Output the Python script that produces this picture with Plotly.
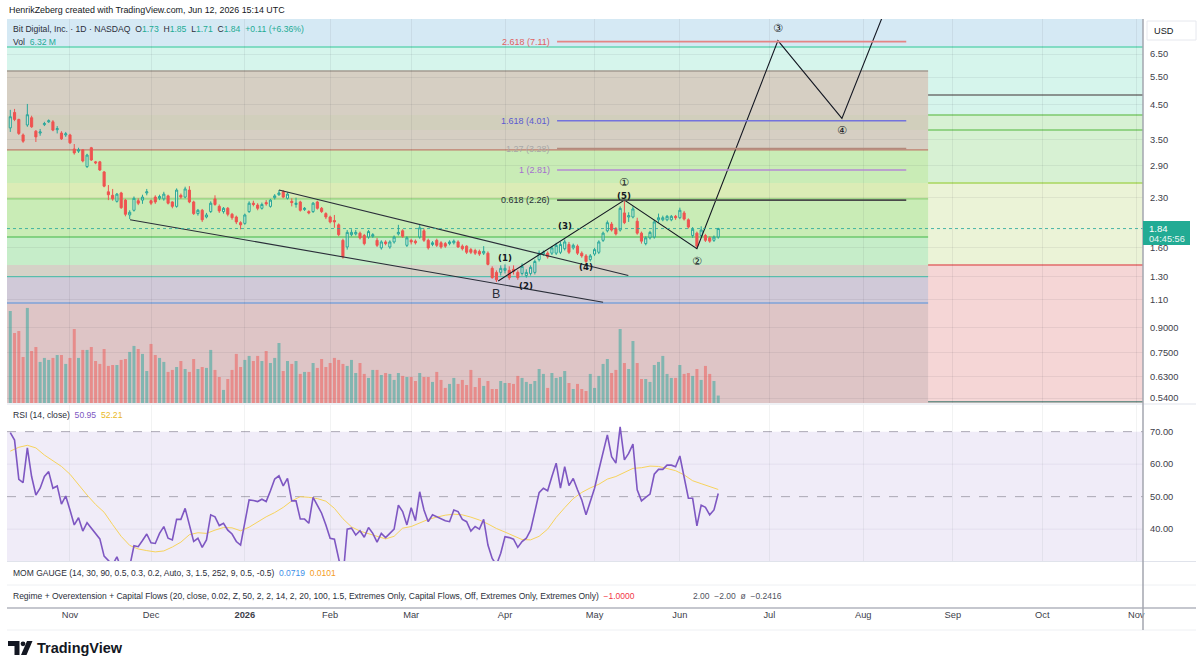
import math
import pandas as pd
import plotly.graph_objects as go

FONT = "Liberation Sans, Arial, sans-serif"
TEAL = "#26a69a"
RED = "#ef5350"
TV_TEAL = "#22ab94"
INK = "#131722"

# ---------------- data ----------------
holidays = ["2025-11-27", "2025-12-25", "2026-01-01", "2026-01-19", "2026-02-16",
            "2026-04-03", "2026-05-25", "2026-06-19", "2026-07-03", "2026-09-07"]
_bd = pd.bdate_range("2025-10-14", "2026-06-12")
dates = [d.strftime("%Y-%m-%d") for d in _bd if d.strftime("%Y-%m-%d") not in holidays]

opens = [3.81, 4.26, 4.05, 3.62, 3.89, 4.10, 3.72, 3.67, 3.90, 3.98,
         3.98, 3.76, 3.67, 3.62, 3.62, 3.27, 3.22, 3.25, 2.88, 3.30,
         2.98, 2.98, 2.77, 2.40, 2.34, 2.24, 2.38, 2.26, 2.03, 2.10,
         2.25, 2.26, 2.38, 2.25, 2.31, 2.29, 2.28, 2.33, 2.23, 2.16,
         2.34, 2.31, 2.43, 2.23, 2.05, 2.10, 2.00, 2.08, 2.28, 2.16,
         2.08, 2.13, 2.04, 2.00, 1.92, 1.91, 2.08, 2.21, 2.18, 2.13,
         2.22, 2.16, 2.30, 2.35, 2.40, 2.29, 2.24, 2.19, 2.23, 2.11,
         2.08, 2.08, 2.23, 2.13, 2.05, 2.00, 1.95, 1.89, 1.69, 1.61,
         1.76, 1.77, 1.78, 1.75, 1.73, 1.74, 1.69, 1.60, 1.67, 1.61,
         1.67, 1.77, 1.81, 1.63, 1.69, 1.68, 1.73, 1.81, 1.69, 1.64,
         1.69, 1.66, 1.65, 1.65, 1.66, 1.67, 1.62, 1.62, 1.58, 1.57,
         1.56, 1.54, 1.54, 1.38, 1.34, 1.34, 1.36, 1.36, 1.37, 1.34,
         1.33, 1.31, 1.33, 1.34, 1.47, 1.53, 1.54, 1.54, 1.54, 1.55,
         1.59, 1.64, 1.60, 1.62, 1.54, 1.51, 1.47, 1.53, 1.55, 1.69,
         1.81, 1.90, 1.84, 1.82, 2.06, 2.00, 2.00, 1.94, 1.78, 1.65,
         1.72, 1.73, 1.96, 1.96, 1.96, 1.96, 2.01, 1.99, 2.06, 1.96,
         1.75, 1.78, 1.75, 1.75, 1.72, 1.69, 1.73]
highs = [4.34, 4.37, 4.07, 3.66, 4.53, 4.16, 3.75, 3.78, 3.98, 4.05,
         4.03, 3.86, 3.72, 3.70, 3.65, 3.39, 3.30, 3.27, 3.16, 3.32,
         3.00, 3.00, 2.79, 2.52, 2.45, 2.38, 2.40, 2.28, 2.10, 2.32,
         2.29, 2.35, 2.45, 2.27, 2.34, 2.35, 2.40, 2.35, 2.24, 2.46,
         2.37, 2.49, 2.50, 2.25, 2.12, 2.12, 2.06, 2.24, 2.34, 2.19,
         2.15, 2.15, 2.06, 2.02, 1.94, 2.05, 2.24, 2.25, 2.21, 2.22,
         2.26, 2.28, 2.36, 2.43, 2.43, 2.39, 2.29, 2.30, 2.25, 2.15,
         2.10, 2.23, 2.25, 2.15, 2.07, 2.02, 2.03, 1.91, 1.71, 1.82,
         1.83, 1.82, 1.80, 1.77, 1.82, 1.78, 1.72, 1.69, 1.69, 1.69,
         1.75, 1.89, 1.83, 1.74, 1.71, 1.70, 1.90, 1.84, 1.71, 1.68,
         1.71, 1.68, 1.67, 1.69, 1.70, 1.69, 1.64, 1.63, 1.60, 1.59,
         1.58, 1.62, 1.56, 1.40, 1.36, 1.41, 1.42, 1.40, 1.41, 1.36,
         1.43, 1.37, 1.41, 1.47, 1.57, 1.57, 1.56, 1.62, 1.66, 1.67,
         1.70, 1.67, 1.65, 1.64, 1.56, 1.53, 1.53, 1.60, 1.69, 1.80,
         1.95, 1.93, 1.86, 2.16, 2.26, 2.07, 2.16, 1.99, 1.80, 1.74,
         1.81, 1.96, 2.05, 2.02, 2.03, 2.03, 2.03, 2.14, 2.09, 1.98,
         1.86, 1.80, 1.87, 1.77, 1.74, 1.75, 1.85]
lows = [3.70, 4.00, 3.62, 3.42, 3.84, 3.81, 3.44, 3.60, 3.86, 3.95,
        3.72, 3.66, 3.49, 3.57, 3.39, 3.14, 3.18, 2.97, 2.85, 3.00,
        2.93, 2.79, 2.48, 2.26, 2.25, 2.22, 2.12, 2.01, 1.97, 2.08,
        2.18, 2.20, 2.34, 2.18, 2.20, 2.26, 2.25, 2.19, 2.13, 2.14,
        2.28, 2.29, 2.21, 2.03, 2.02, 1.93, 1.98, 2.06, 2.17, 2.06,
        2.05, 2.01, 1.96, 1.90, 1.83, 1.89, 2.06, 2.16, 2.10, 2.11,
        2.17, 2.14, 2.27, 2.33, 2.29, 2.27, 2.16, 2.14, 2.08, 2.09,
        2.04, 2.06, 2.11, 2.06, 1.97, 1.91, 1.85, 1.74, 1.48, 1.58,
        1.74, 1.75, 1.70, 1.63, 1.71, 1.72, 1.61, 1.58, 1.63, 1.59,
        1.65, 1.75, 1.72, 1.61, 1.64, 1.64, 1.71, 1.67, 1.58, 1.62,
        1.61, 1.59, 1.60, 1.63, 1.64, 1.60, 1.57, 1.53, 1.53, 1.52,
        1.51, 1.52, 1.41, 1.28, 1.25, 1.31, 1.33, 1.27, 1.32, 1.27,
        1.31, 1.29, 1.31, 1.32, 1.45, 1.51, 1.48, 1.52, 1.52, 1.53,
        1.57, 1.53, 1.58, 1.52, 1.49, 1.43, 1.45, 1.51, 1.53, 1.67,
        1.79, 1.80, 1.75, 1.80, 1.90, 1.93, 1.98, 1.76, 1.65, 1.63,
        1.70, 1.71, 1.92, 1.94, 1.94, 1.94, 1.96, 1.97, 1.95, 1.84,
        1.72, 1.59, 1.73, 1.67, 1.66, 1.67, 1.71]
closes = [4.13, 4.05, 3.66, 3.46, 4.19, 3.84, 3.57, 3.70, 3.93, 4.01,
          3.75, 3.79, 3.52, 3.65, 3.42, 3.18, 3.25, 3.00, 3.13, 3.02,
          2.96, 2.81, 2.50, 2.35, 2.28, 2.36, 2.14, 2.04, 2.07, 2.29,
          2.21, 2.31, 2.40, 2.21, 2.23, 2.32, 2.36, 2.21, 2.16, 2.43,
          2.31, 2.45, 2.23, 2.05, 2.10, 1.96, 2.03, 2.21, 2.19, 2.09,
          2.13, 2.04, 1.99, 1.93, 1.89, 2.03, 2.21, 2.19, 2.13, 2.19,
          2.20, 2.26, 2.33, 2.38, 2.31, 2.36, 2.22, 2.21, 2.10, 2.13,
          2.06, 2.21, 2.13, 2.08, 2.00, 1.93, 1.93, 1.76, 1.50, 1.79,
          1.79, 1.79, 1.72, 1.65, 1.80, 1.76, 1.63, 1.67, 1.65, 1.67,
          1.73, 1.79, 1.74, 1.72, 1.67, 1.66, 1.85, 1.69, 1.60, 1.66,
          1.63, 1.61, 1.62, 1.67, 1.68, 1.61, 1.59, 1.55, 1.55, 1.54,
          1.53, 1.56, 1.42, 1.29, 1.27, 1.38, 1.38, 1.29, 1.35, 1.29,
          1.40, 1.34, 1.39, 1.45, 1.54, 1.55, 1.50, 1.60, 1.63, 1.64,
          1.67, 1.55, 1.63, 1.54, 1.51, 1.45, 1.51, 1.58, 1.67, 1.78,
          1.92, 1.82, 1.77, 2.13, 1.92, 2.02, 2.12, 1.78, 1.68, 1.72,
          1.79, 1.93, 1.99, 1.99, 2.01, 2.01, 1.99, 2.10, 1.97, 1.86,
          1.83, 1.62, 1.82, 1.69, 1.68, 1.73, 1.84]
volume_m = [78.2, 59.5, 61.2, 39.1, 80.8, 44.2, 47.6, 34.9, 38.3, 36.6,
            38.3, 40.8, 40.8, 33.2, 38.3, 62.9, 38.3, 45.1, 45.1, 47.6,
            35.7, 33.2, 45.9, 31.5, 32.3, 32.3, 36.6, 37.4, 43.4, 48.5,
            45.9, 41.7, 27.2, 50.2, 40.8, 38.3, 34.9, 26.4, 28.1, 30.6,
            35.7, 28.9, 26.4, 37.4, 28.9, 30.6, 29.8, 45.1, 28.1, 22.1,
            11.1, 20.4, 28.1, 41.7, 30.6, 36.6, 40.0, 35.7, 40.0, 35.7,
            44.2, 34.0, 38.3, 51.0, 27.2, 35.7, 33.2, 35.7, 24.7, 26.4,
            26.4, 34.0, 29.8, 37.4, 30.6, 34.0, 38.3, 36.6, 33.2, 31.5,
            36.6, 25.5, 34.0, 24.7, 21.3, 28.1, 28.1, 23.8, 25.5, 24.7,
            19.6, 25.5,
            23.0, 22.1, 22.1, 18.7, 25.5, 22.1, 22.1, 17.9, 26.4, 19.6,
            12.8, 16.2, 21.3, 16.2, 19.6, 15.3, 28.1, 13.6, 21.3, 14.5,
            18.7, 11.9, 11.9, 18.7, 17.0, 17.0, 16.2, 23.0, 21.3, 17.9,
            16.2, 18.7, 28.9, 24.7, 12.8, 25.5, 21.3, 22.1, 27.2, 17.0,
            11.9, 16.2, 11.9, 10.2, 24.7, 12.8, 23.0, 33.2, 37.4, 25.5,
            28.1, 62.9, 34.0, 28.9, 52.7, 34.0, 20.4, 20.4, 17.9, 32.3,
            34.9, 40.0, 24.7, 21.3, 21.3, 32.3, 24.7, 25.5, 23.0, 28.9,
            19.6, 31.5, 24.7, 18.7, 6.32]
rsi = [69.7, 67.4, 55.3, 54.3, 65.0, 56.2, 50.5, 52.6, 56.2, 57.7,
       52.6, 53.3, 47.7, 50.2, 45.9, 41.3, 43.5, 39.4, 42.0, 40.3,
       38.7, 37.0, 31.7, 30.5, 29.0, 31.5, 28.0, 26.0, 28.5, 34.9,
       34.6, 36.5, 38.5, 35.8, 35.6, 38.7, 40.8, 37.2, 36.7, 43.0,
       43.0, 46.4, 40.8, 36.2, 37.2, 34.4, 36.7, 44.4, 43.8, 41.1,
       41.8, 39.7, 38.5, 36.2, 35.1, 41.8, 49.0, 48.8, 48.5, 49.2,
       48.5, 51.8, 55.4, 56.4, 53.3, 55.6, 48.7, 48.7, 43.1, 43.1,
       41.8, 49.8, 47.4, 44.9, 41.3, 37.2, 36.9, 30.5, 25.0, 40.0,
       40.3, 38.2, 39.5, 37.5, 40.5, 38.7, 36.0, 38.7, 37.4, 38.7,
       40.0, 47.4,
       45.4, 41.3, 46.6, 42.6, 51.5, 45.9, 42.3, 44.4, 43.8, 43.0,
       42.6, 42.3, 45.9, 45.4, 43.0, 42.3, 39.4, 40.8, 40.0, 43.0,
       35.1, 31.0, 29.0, 32.6, 37.7, 37.4, 36.9, 34.4, 36.2, 37.2,
       39.7, 45.4, 51.2, 52.6, 51.8, 56.2, 60.3, 52.6, 59.2, 53.4,
       55.6, 52.1, 49.0, 44.4, 48.5, 52.6, 58.2, 63.8, 69.0, 62.3,
       60.3, 71.5, 61.3, 63.3, 66.2, 52.1, 48.7, 49.8, 50.8, 56.9,
       58.4, 58.4, 59.7, 59.7, 59.2, 62.5, 56.2, 49.5, 49.5, 41.0,
       47.4, 46.7, 44.4, 45.9, 50.95]
# RSI-based MA, read at every second bar
rsi_ma = [64.0, 65.2, 65.8, 65.0, 62.8, 61.0, 59.3, 56.9, 53.6, 50.5,
          47.6, 45.2, 41.4, 37.8, 35.0, 33.9, 33.4, 33.0, 33.3, 34.5,
          36.0, 38.3, 38.9, 38.7, 39.7, 40.5, 40.4, 39.5, 40.6, 42.3,
          43.8, 45.1, 46.7, 48.7, 50.0, 49.8, 49.4, 48.6, 46.4, 43.2,
          40.7, 39.4, 38.6, 37.7, 37.0, 37.8,
          40.3, 40.8, 42.0, 43.0, 43.7, 44.3, 44.6, 44.4, 43.7, 42.8,
          41.6, 40.2, 39.1, 38.0, 36.8, 36.7, 37.8, 40.0, 43.6, 46.6,
          49.4, 51.3, 52.7, 53.8, 55.4, 56.2, 57.5, 58.7, 58.9, 59.4,
          59.3, 58.7, 58.0, 56.7, 54.9, 54.0, 53.2, 52.21]
rsi_ma_dates = dates[::2]

month_ticks = ["2025-11-03", "2025-12-01", "2026-01-02", "2026-02-02", "2026-03-02",
               "2026-04-01", "2026-05-01", "2026-06-01", "2026-07-01", "2026-08-03",
               "2026-09-01", "2026-10-01", "2026-11-02"]
month_labels = ["Nov", "Dec", "<b>2026</b>", "Feb", "Mar", "Apr", "May", "Jun",
                "Jul", "Aug", "Sep", "Oct", "Nov"]
price_ticks = [6.5, 5.5, 4.5, 3.5, 2.9, 2.3, 1.6, 1.3, 1.1, 0.9, 0.75, 0.63, 0.54]
price_tick_text = ["6.50", "5.50", "4.50", "3.50", "2.90", "2.30", "1.60", "1.30",
                   "1.10", "0.9000", "0.7500", "0.6300", "0.5400"]
rsi_ticks = [70, 60, 50, 40]
rsi_tick_text = ["70.00", "60.00", "50.00", "40.00"]

fib_labels = ["2.618 (7.11)", "1.618 (4.01)", "1.27 (3.28)", "1 (2.81)", "0.618 (2.26)"]
fib_prices = [7.11, 4.01, 3.28, 2.81, 2.26]
fib_line_colors = ["#e58585", "#7373dc", "#b38a7c", "#b58ad3", "#4a4a4a"]
fib_text_colors = ["#e06262", "#5a5ad0", "#a8a8a8", "#a56fcf", "#2a2e39"]
fib_span = ["2026-04-20 05:00", "2026-08-17 02:00"]

upper_tl_dates = ["2026-01-14", "2026-05-12 22:00"]
upper_tl_prices = [2.43, 1.31]
lower_tl_dates = ["2025-11-21 02:00", "2026-05-05"]
lower_tl_prices = [1.96, 1.08]
wave_dates = ["2026-03-30 10:00", "2026-05-12", "2026-06-05", "2026-07-06", "2026-07-27", "2026-08-19"]
wave_prices = [1.26, 2.26, 1.59, 7.16, 4.08, 15.2]

wave_text = ["(1)", "(2)", "(3)", "(4)", "(5)", "\u2460", "\u2461", "\u2462", "\u2463", "B"]
wave_text_dates = ["2026-04-01", "2026-04-09", "2026-04-22", "2026-04-29", "2026-05-12",
                   "2026-05-12", "2026-06-05", "2026-07-06", "2026-07-27", "2026-03-30"]
wave_text_prices = [1.487, 1.214, 1.87, 1.39, 2.33, 2.56, 1.451, 7.84, 3.75, 1.146]

# horizontal zones (price boundaries)
P_TOP, P_BOT = 8.372, 0.5212
full_zones = [(6.838, P_TOP, "#d5e9f4"), (4.182, 6.838, "#d6f5ec"), (2.557, 4.182, "#d7f1d3"),
              (1.414, 2.557, "#ebf3d7"), (P_BOT, 1.414, "#f5d6d6")]
inner_zones = [(3.25, 5.75, "#d6cfc3"), (3.752, 4.182, "#d1cfbc"), (2.557, 3.25, "#c9ecb6"),
               (2.28, 2.557, "#dbecb6"), (1.73, 2.28, "#c9ecb6"), (1.414, 1.73, "#c6edc9"),
               (1.30, 1.414, "#d5d2c7"), (1.074, 1.30, "#d0c9d8"), (P_BOT, 1.074, "#dec5c6")]
full_lines = [(6.838, "#66d4b4"), (4.832, "#707070"), (4.182, "#7cc86c"), (3.752, "#7cc86c"),
              (2.557, "#a9d65e"), (1.414, "#e26a6a"), (0.526, "#6f918a")]
inner_lines = [(5.75, "#a39a90"), (3.25, "#c07a6c"), (2.28, "#8fd07a"), (1.73, "#6cc96c"),
               (1.30, "#5cc9b5"), (1.074, "#7ea2d8")]

# ---------------- geometry helpers ----------------
PL, PR, PT, PB = 7, 1143, 19, 608


def fx(px):
    return (px - PL) / (PR - PL)


def fy(py):
    return (PB - py) / (PB - PT)


L10 = math.log10
XR = ["2025-10-13 05:30", "2026-11-03 14:24"]
INNER_END = "2026-08-24 05:00"
RB = [dict(bounds=["sat", "mon"]), dict(values=holidays)]

fig = go.Figure()

vol_colors = ["rgba(38,166,154,0.5)" if c >= o else "rgba(239,83,80,0.5)" for o, c in zip(opens, closes)]
fig.add_trace(go.Bar(x=dates, y=volume_m, marker=dict(color=vol_colors, line=dict(width=0)),
                     width=0.7 * 86400000, xaxis="x", yaxis="y2", hoverinfo="skip"))
fig.add_trace(go.Candlestick(
    x=dates, open=opens, high=highs, low=lows, close=closes, xaxis="x", yaxis="y",
    increasing=dict(line=dict(color=TEAL, width=1), fillcolor="rgba(255,255,255,0.35)"),
    decreasing=dict(line=dict(color=RED, width=1), fillcolor=RED),
    whiskerwidth=0, hoverinfo="skip"))

for xs, ys in [(upper_tl_dates, upper_tl_prices), (lower_tl_dates, lower_tl_prices)]:
    fig.add_trace(go.Scatter(x=xs, y=ys, mode="lines", line=dict(color="#2a2e39", width=1.1),
                             xaxis="x", yaxis="y", hoverinfo="skip"))
fig.add_trace(go.Scatter(x=wave_dates, y=wave_prices, mode="lines", line=dict(color="#131722", width=1.1),
                         xaxis="x", yaxis="y", hoverinfo="skip"))
for p, c in zip(fib_prices, fib_line_colors):
    fig.add_trace(go.Scatter(x=fib_span, y=[p, p], mode="lines", line=dict(color=c, width=1.6),
                             xaxis="x", yaxis="y", hoverinfo="skip"))

fig.add_trace(go.Scatter(x=rsi_ma_dates, y=rsi_ma, mode="lines", line=dict(color="#f7d35c", width=1),
                         xaxis="x2", yaxis="y3", hoverinfo="skip"))
fig.add_trace(go.Scatter(x=dates, y=rsi, mode="lines", line=dict(color="#7e57c2", width=1.6),
                         xaxis="x2", yaxis="y3", hoverinfo="skip"))

# ---------------- shapes ----------------
# (shapes on the log price axis take plain price values)
shapes = []
for lo, hi, col in full_zones:
    shapes.append(dict(type="rect", xref="x domain", yref="y", x0=0, x1=1, y0=lo, y1=hi,
                       fillcolor=col, line=dict(width=0), layer="below"))
for lo, hi, col in inner_zones:
    shapes.append(dict(type="rect", xref="x", yref="y", x0=XR[0], x1=INNER_END, y0=lo, y1=hi,
                       fillcolor=col, line=dict(width=0), layer="below"))
for p, col in full_lines:
    shapes.append(dict(type="line", xref="x domain", yref="y", x0=0, x1=1, y0=p, y1=p,
                       line=dict(color=col, width=1.4), layer="below"))
for p, col in inner_lines:
    shapes.append(dict(type="line", xref="x", yref="y", x0=XR[0], x1=INNER_END, y0=p, y1=p,
                       line=dict(color=col, width=1.4), layer="below"))
# last price dotted line
shapes.append(dict(type="line", xref="x domain", yref="y", x0=0, x1=1, y0=closes[-1], y1=closes[-1],
                   line=dict(color="rgba(38,166,154,0.8)", width=1, dash="dot"), layer="above"))

# RSI pane decorations
shapes.append(dict(type="rect", xref="x2 domain", yref="y3", x0=0, x1=1, y0=30, y1=70,
                   fillcolor="#f0ecf8", line=dict(width=0), layer="below"))
for v in [60, 40]:
    shapes.append(dict(type="line", xref="x2 domain", yref="y3", x0=0, x1=1, y0=v, y1=v,
                       line=dict(color="#e3dfee", width=1), layer="below"))
for v in [70, 50]:
    shapes.append(dict(type="line", xref="x2 domain", yref="y3", x0=0, x1=1, y0=v, y1=v,
                       line=dict(color="#aaa7b4", width=1, dash="dash"), layer="below"))

# pane separators / frame
for py, col, w in [(404, "#e0e3eb", 1), (561.5, "#e0e3eb", 1), (585, "#eef0f3", 1),
                   (608, "#b2b5be", 1.5), (630, "#eef0f3", 1)]:
    shapes.append(dict(type="line", xref="paper", yref="paper", x0=fx(7), x1=fx(1196), y0=fy(py), y1=fy(py),
                       line=dict(color=col, width=w), layer="above"))
shapes.append(dict(type="line", xref="paper", yref="paper", x0=1, x1=1, y0=fy(19), y1=fy(630),
                   line=dict(color="#a3a6af", width=1.5), layer="above"))
# USD box
shapes.append(dict(type="rect", xref="paper", yref="paper", x0=fx(1147), x1=fx(1196), y0=fy(40), y1=fy(21),
                   fillcolor="white", line=dict(color="#e6e8ee", width=1), layer="above"))
# last price tag
shapes.append(dict(type="rect", xref="paper", yref="paper", x0=fx(1143), x1=fx(1190), y0=fy(245), y1=fy(221),
                   fillcolor=TV_TEAL, line=dict(width=0), layer="above"))


# TradingView logo glyph
def _path(points):
    return "M " + " L ".join(f"{fx(a):.5f},{fy(b):.5f}" for a, b in points) + " Z"


shapes.append(dict(type="path", xref="paper", yref="paper",
                   path=_path([(8, 641), (19.5, 641), (19.5, 655), (14.5, 655), (14.5, 646), (8, 646)]),
                   fillcolor=INK, line=dict(width=0), layer="above"))
shapes.append(dict(type="circle", xref="paper", yref="paper", x0=fx(20.6), x1=fx(25.4), y0=fy(646.2), y1=fy(641.4),
                   fillcolor=INK, line=dict(width=0), layer="above"))
shapes.append(dict(type="path", xref="paper", yref="paper",
                   path=_path([(27, 641), (32.5, 641), (26.5, 655), (21, 655)]),
                   fillcolor=INK, line=dict(width=0), layer="above"))

# ---------------- annotations ----------------
ann = []


def txt(text, px, py, size=8.7, color=INK, xanchor="left", family=FONT):
    ann.append(dict(text=text, xref="paper", yref="paper", x=fx(px), y=fy(py), xanchor=xanchor,
                    yanchor="middle", showarrow=False, font=dict(size=size, color=color, family=family),
                    borderpad=0))


NB = "\u00a0"


def tc(v, c=TV_TEAL):
    return f"<span style='color:{c}'>{v}</span>"


txt("HenrikZeberg created with TradingView.com, Jun 12, 2026 15:14 UTC", 8, 10, size=8.9)
txt("Bit Digital, Inc. · 1D · NASDAQ" + NB * 2 + "O" + tc("1.73") + NB * 2 + "H" + tc("1.85") + NB * 2 +
    "L" + tc("1.71") + NB * 2 + "C" + tc("1.84") + NB * 2 + tc("+0.11 (+6.36%)"), 12, 29, size=8.6,
    color="#2a2e39")
txt("Vol" + NB * 2 + tc("6.32" + NB + "M"), 12, 42, size=8.6, color="#2a2e39")
txt("RSI (14, close)" + NB * 2 + tc("50.95", "#7e57c2") + NB * 2 + tc("52.21", "#e9b824"), 12, 415, size=8.6,
    color="#2a2e39")
txt("MOM GAUGE (14, 30, 90, 0.5, 0.3, 0.2, Auto, 3, 1.5, 252, 9, 0.5, -0.5)" + NB * 2 + tc("0.0719", "#3d8fe8") +
    NB * 2 + tc("0.0101", "#f59b1c"), 12, 573, size=8.5, color="#2a2e39")
txt("Regime + Overextension + Capital Flows (20, close, 0.02, Z, 50, 2, 2, 14, 2, 20, 100, 1.5, Extremes Only, "
    "Capital Flows, Off, Extremes Only, Extremes Only)" + NB * 2 + tc("\u22121.0000", "#f23645"), 12, 596, size=8.5,
    color="#2a2e39")
txt("2.00" + NB * 2 + "\u22122.00" + NB * 2 + "ø" + NB * 2 + "\u22120.2416", 692, 596, size=8.5, color="#50535e")
txt("USD", 1153, 30.5, size=9.2, color=INK)
txt("1.84", 1148, 228.5, size=9.6, color="white")
txt("04:45:56", 1148, 239, size=9.2, color="#e8f6f3")
txt("<b>TradingView</b>", 36, 648, size=14.5, color=INK)

for lab, p, c in zip(fib_labels, fib_prices, fib_text_colors):
    ann.append(dict(text=lab, xref="x", yref="y", x=fib_span[0], y=L10(p), xanchor="right", yanchor="middle",
                    xshift=-5, showarrow=False, font=dict(size=9, color=c, family=FONT)))

for t, d, p in zip(wave_text, wave_text_dates, wave_text_prices):
    if t == "B":
        f = dict(size=12.5, color="#2a2e39", family=FONT)
    elif t.startswith("("):
        f = dict(size=8.6, color=INK, family="DejaVu Sans, sans-serif")
        t = "<b>" + t + "</b>"
    else:
        f = dict(size=11, color=INK, family="DejaVu Sans, sans-serif")
    ann.append(dict(text=t, xref="x", yref="y", x=d, y=L10(p), xanchor="center", yanchor="middle",
                    showarrow=False, font=f))

GRID = "rgba(42,46,57,0.07)"
TICKF = dict(size=9.3, color="#3d404a", family=FONT)

fig.update_layout(
    width=1200, height=670, margin=dict(l=PL, r=1200 - PR, t=PT, b=670 - PB),
    paper_bgcolor="white", plot_bgcolor="white", showlegend=False, hovermode=False,
    xaxis=dict(domain=[0, 1], anchor="y", type="date", range=XR, rangebreaks=RB, tickvals=month_ticks,
               showticklabels=False, ticks="", showgrid=True, gridcolor=GRID, gridwidth=1, zeroline=False,
               showline=False, rangeslider=dict(visible=False), fixedrange=True),
    xaxis2=dict(domain=[0, 1], anchor="free", position=0, type="date", range=XR, rangebreaks=RB,
                tickvals=month_ticks, ticktext=month_labels, showticklabels=True, ticks="", showgrid=True,
                gridcolor="rgba(42,46,57,0.06)", zeroline=False, showline=False, tickfont=TICKF,
                fixedrange=True),
    yaxis=dict(domain=[fy(403), 1], anchor="x", type="log", range=[L10(P_BOT), L10(P_TOP)], side="right",
               tickvals=price_ticks, ticktext=price_tick_text, showgrid=True, gridcolor=GRID, ticks="",
               ticklabelstandoff=6, tickfont=TICKF, zeroline=False, showline=False, fixedrange=True),
    yaxis2=dict(overlaying="y", anchor="x", range=[0, 326.4], visible=False, fixedrange=True),
    yaxis3=dict(domain=[fy(561), fy(405)], anchor="x2", range=[30.2, 78.2], side="right",
                tickvals=rsi_ticks, ticktext=rsi_tick_text, showgrid=False, ticks="", ticklabelstandoff=6,
                tickfont=TICKF, zeroline=False, showline=False, fixedrange=True),
    shapes=shapes, annotations=ann,
)

fig.write_html("out.html", config={"displayModeBar": False})
